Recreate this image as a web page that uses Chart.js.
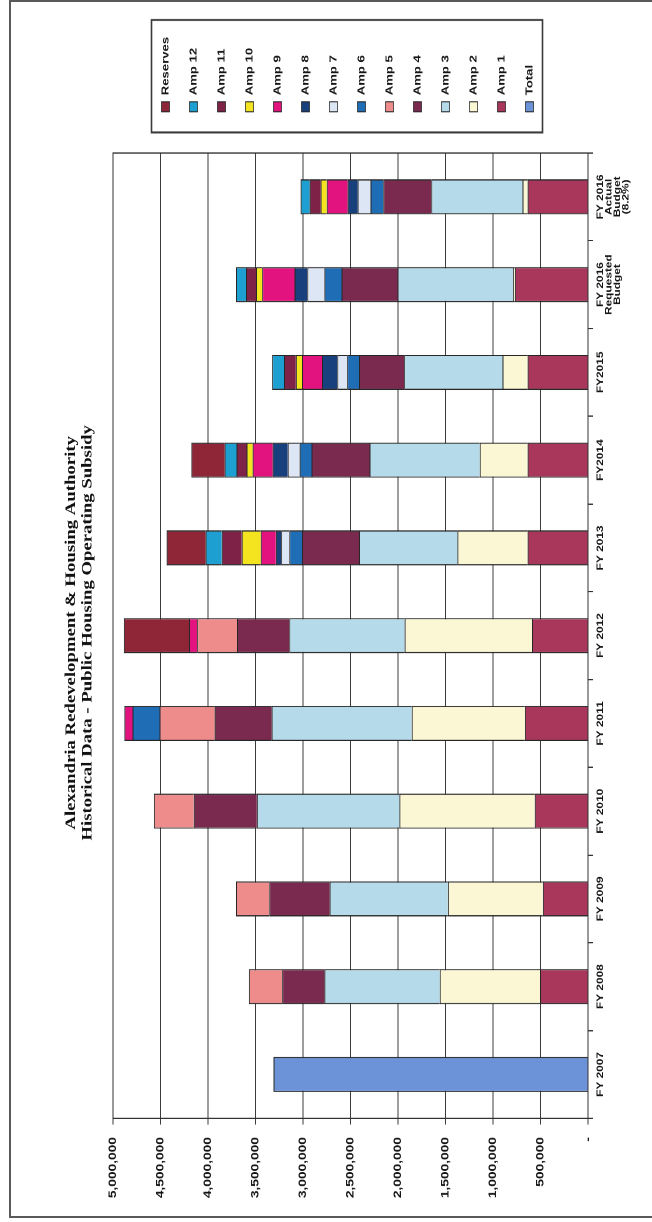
<!DOCTYPE html>
<html>
<head>
<meta charset="utf-8">
<title>ARHA Public Housing Operating Subsidy</title>
<script src="https://cdn.jsdelivr.net/npm/chart.js@4.4.1/dist/chart.umd.min.js"></script>
<style>
  html, body { margin: 0; padding: 0; background: #fff; }
  body { width: 652px; height: 1222px; position: relative; overflow: hidden; }
  .sheet { position: absolute; left: 9px; top: 0; width: 680px; height: 1218px;
           box-sizing: border-box; border: 2px solid #5a5a5a; border-right: none; }
  /* the chart is laid out landscape, then stretched a little and turned onto the portrait page */
  .turn { position: absolute; left: 0; top: 0; width: 978px; height: 652px;
          transform-origin: 0 0; transform: translateY(1222px) rotate(-90deg) scaleX(1.2495); }
</style>
</head>
<body>
<div class="sheet"></div>
<div class="turn"><canvas id="subsidy" width="978" height="652"></canvas></div>
<script>
const categories = [
  'FY 2007', 'FY 2008', 'FY 2009', 'FY 2010', 'FY 2011', 'FY 2012',
  'FY 2013', 'FY2014', 'FY2015',
  ['FY 2016', 'Requested', 'Budget'],
  ['FY 2016', 'Actual', 'Budget', '(8.2%)']
];

const axisMax = 5000000;
const axisStep = 500000;

// stacked from the base upward: Total, Amp 1 ... Amp 12, Reserves
const total    = [3310000, 0, 0, 0, 0, 0, 0, 0, 0, 0, 0];
const amp1     = [0, 505000, 475000, 560000, 665000, 590000, 635000, 635000, 635000, 770000, 635000];
const amp2     = [0, 1055000, 1000000, 1425000, 1190000, 1340000, 740000, 505000, 265000, 20000, 55000];
const amp3     = [0, 1215000, 1245000, 1500000, 1475000, 1215000, 1035000, 1160000, 1035000, 1215000, 960000];
const amp4     = [0, 445000, 635000, 665000, 600000, 550000, 600000, 610000, 475000, 590000, 505000];
const amp5     = [0, 350000, 350000, 420000, 580000, 420000, 0, 0, 0, 0, 0];
const amp6     = [0, 0, 0, 0, 285000, 0, 135000, 125000, 125000, 180000, 135000];
const amp7     = [0, 0, 0, 0, 0, 0, 85000, 125000, 105000, 180000, 135000];
const amp8     = [0, 0, 0, 0, 0, 0, 55000, 160000, 160000, 135000, 105000];
const amp9     = [0, 0, 0, 0, 85000, 85000, 160000, 210000, 210000, 340000, 220000];
const amp10    = [0, 0, 0, 0, 0, 0, 200000, 65000, 65000, 65000, 65000];
const amp11    = [0, 0, 0, 0, 0, 0, 210000, 105000, 125000, 105000, 115000];
const amp12    = [0, 0, 0, 0, 0, 0, 170000, 125000, 125000, 105000, 95000];
const reserves = [0, 0, 0, 0, 0, 685000, 410000, 350000, 0, 0, 0];

const seriesNames = ['Total', 'Amp 1', 'Amp 2', 'Amp 3', 'Amp 4', 'Amp 5', 'Amp 6',
  'Amp 7', 'Amp 8', 'Amp 9', 'Amp 10', 'Amp 11', 'Amp 12', 'Reserves'];
const seriesValues = [total, amp1, amp2, amp3, amp4, amp5, amp6,
  amp7, amp8, amp9, amp10, amp11, amp12, reserves];
const seriesColors = ['#6c93d8', '#a9375b', '#fbf7d4', '#b5dbea', '#7b2a4f', '#ee8c8c', '#1f6db5',
  '#dde6f4', '#18407c', '#e2137f', '#f4e41f', '#7e2347', '#1d9fd2', '#8e2638'];

const sans = '"Liberation Sans", Arial, sans-serif';
const ink = '#161616';

// outline round the plot area
const plotFrame = {
  id: 'plotFrame',
  beforeDatasetsDraw(chart) {
    const { ctx, chartArea: a } = chart;
    ctx.save();
    ctx.strokeStyle = '#333';
    ctx.lineWidth = 1;
    ctx.strokeRect(a.left, a.top, a.right - a.left, a.bottom - a.top);
    ctx.restore();
  }
};

// legend sits a bit off the plot, inside a ruled box
const legendFrame = {
  id: 'legendFrame',
  afterLayout(chart) {
    const lg = chart.legend;
    const w = lg.width;
    lg.left = 871;
    lg.right = 871 + w;
    lg.top -= 3;
    lg.bottom -= 3;
  },
  afterDraw(chart) {
    const lg = chart.legend;
    const boxes = lg.legendHitBoxes;
    if (!boxes || !boxes.length) return;
    const first = boxes[0];
    const last = boxes[boxes.length - 1];
    const top = first.top + first.height / 2 - 14;
    const bottom = last.top + last.height / 2 + 13;
    const ctx = chart.ctx;
    ctx.save();
    ctx.strokeStyle = '#3a3a3a';
    ctx.lineWidth = 1.6;
    ctx.strokeRect(lg.left + 1, top, 90, bottom - top);
    ctx.restore();
  }
};

const datasets = seriesNames.map((name, i) => ({
  label: name,
  data: seriesValues[i],
  backgroundColor: seriesColors[i],
  borderColor: '#262626',
  borderWidth: { top: 1, left: 1, right: 1, bottom: 0 },
  borderSkipped: false,
  barPercentage: 0.4,
  categoryPercentage: 1
}));

new Chart(document.getElementById('subsidy'), {
  type: 'bar',
  data: { labels: categories, datasets: datasets },
  options: {
    responsive: false,
    animation: false,
    devicePixelRatio: 2,
    events: [],
    layout: { padding: { top: 0, left: 0, bottom: 0, right: 35 } },
    scales: {
      x: {
        stacked: true,
        afterFit(s) { s.height = 64; },
        border: { display: true, color: '#333', width: 1 },
        grid: { display: true, drawOnChartArea: false, drawTicks: true, tickLength: 5, color: '#333', offset: true },
        ticks: {
          padding: 3, color: ink, maxRotation: 0, minRotation: 0, autoSkip: false,
          font: { family: sans, size: 9.5, weight: 'bold', lineHeight: 0.9 }
        }
      },
      y: {
        stacked: true,
        min: 0,
        max: axisMax,
        afterFit(s) { s.width = 83; },
        border: { display: true, color: '#333', width: 1 },
        grid: { color: '#3c3c3c', lineWidth: 1, tickLength: 5 },
        ticks: {
          stepSize: axisStep, padding: 10, color: ink,
          font: { family: sans, size: 11, weight: 'bold' },
          callback: v => v === 0 ? '-' : v.toLocaleString('en-US')
        }
      }
    },
    plugins: {
      tooltip: { enabled: false },
      title: {
        display: true,
        text: ['Alexandria Redevelopment & Housing Authority',
               'Historical Data - Public Housing Operating Subsidy'],
        color: '#111',
        font: { family: '"Liberation Serif", "Times New Roman", serif', size: 15, weight: 'bold', lineHeight: 1.1 },
        padding: { top: 63, bottom: 17 }
      },
      legend: {
        position: 'right',
        align: 'center',
        fullSize: false,
        reverse: true,
        labels: {
          boxWidth: 8, boxHeight: 8, padding: 17.5, color: ink,
          font: { family: sans, size: 10.5, weight: 'bold' }
        }
      }
    }
  },
  plugins: [plotFrame, legendFrame]
});
</script>
</body>
</html>
